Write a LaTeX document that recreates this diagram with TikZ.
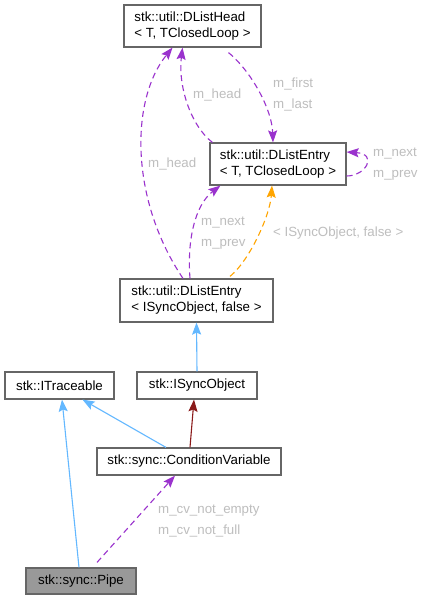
\documentclass[tikz,border=0pt]{standalone}
\usepackage{fontspec}
\setmainfont{Liberation Sans}
\usetikzlibrary{arrows.meta}
\definecolor{edgepurple}{HTML}{9A32CD}
\definecolor{edgeblue}{HTML}{63B8FF}
\definecolor{edgered}{HTML}{8B1A1A}
\definecolor{edgeorange}{HTML}{FFA500}
\definecolor{lblgray}{HTML}{BEBEBE}
\definecolor{boxgray}{HTML}{666666}
\definecolor{pipegray}{HTML}{999999}

\begin{document}
\begin{tikzpicture}[x=1pt,y=-1pt,
    font=\fontsize{13.3}{16}\selectfont,
    cls/.style={draw=boxgray,line width=1.2pt,fill=white,inner sep=0pt,align=left},
    member/.style={edgepurple,line width=1.1pt,dash pattern=on 6pt off 4pt,-{Stealth[length=12pt,width=9pt,inset=2pt]}},
    tmpl/.style={edgeorange,line width=1.1pt,dash pattern=on 6pt off 4pt,-{Stealth[length=12pt,width=9pt,inset=2pt]}},
    inherit/.style={edgeblue,line width=1.1pt,-{Stealth[length=12pt,width=9pt,inset=2pt]}},
    priv/.style={edgered,line width=1.1pt,-{Stealth[length=12pt,width=9pt,inset=2pt]}},
    lbl/.style={lblgray,anchor=west,inner sep=0pt,align=left,font=\fontsize{13.3}{21}\selectfont}]
  \fill[white] (0,0) rectangle (426,600);
  \useasboundingbox (0,0) rectangle (426,600);

  % classes
  \node[cls,minimum width=137pt,minimum height=42pt] (head) at (192.5,26) {stk::util::DListHead\\< T, TClosedLoop >};
  \node[cls,minimum width=136pt,minimum height=42pt] (entryT) at (278,164) {stk::util::DListEntry\\< T, TClosedLoop >};
  \node[cls,minimum width=153pt,minimum height=43pt] (entrySO) at (196.5,300.5) {stk::util::DListEntry\\< ISyncObject, false >};
  \node[cls,minimum width=109pt,minimum height=27pt] (trace) at (59.5,385.5) {stk::ITraceable};
  \node[cls,minimum width=120pt,minimum height=27pt] (syncobj) at (197,385.5) {stk::ISyncObject};
  \node[cls,minimum width=184pt,minimum height=27pt] (condvar) at (189,461.5) {stk::sync::ConditionVariable};
  \node[cls,fill=pipegray,minimum width=110pt,minimum height=26pt] (pipe) at (81,581) {stk::sync::Pipe};

  % members
  \draw[member] ([xshift=3pt]entryT.north west) .. controls (190,125) and (178,85) .. ([xshift=-10pt]head.south);
  \draw[member] ([xshift=36pt,yshift=-5pt]head.south) .. controls (252,72) and (272,110) .. ([xshift=-5pt]entryT.north);
  \draw[member] ([yshift=-12pt]entryT.east) .. controls (366,176) and (378,154) .. ([yshift=12pt]entryT.east);
  \draw[member] ([xshift=-13.5pt]entrySO.north) .. controls (130,200) and (130,100) .. ([xshift=-20pt]head.south);
  \draw[member] ([xshift=-6.5pt]entrySO.north) .. controls (187,240) and (195,205) .. ([xshift=11pt]entryT.south west);
  \draw[tmpl] ([xshift=33.5pt,yshift=2pt]entrySO.north) .. controls (250,260) and (270,215) .. ([xshift=-6pt]entryT.south);
  \draw[member] ([xshift=16pt,yshift=5pt]pipe.north) -- ([xshift=-14pt]condvar.south);

  % bases
  \draw[inherit] (syncobj.north) -- (entrySO.south);
  \draw[inherit] ([xshift=-2pt]pipe.north) -- ([xshift=2.5pt]trace.south);
  \draw[inherit] ([xshift=-23pt]condvar.north) -- ([xshift=23pt]trace.south);
  \draw[priv] ([xshift=1pt]condvar.north) -- ([xshift=-3pt]syncobj.south);

  % labels
  \node[lbl] (lheadT) at (193,95) {m\_head};
  \node[lbl] (lfirst) at (273,95) {m\_first\\m\_last};
  \node[lbl] (lloop) at (373,164.5) {m\_next\\m\_prev};
  \node[lbl] (lheadSO) at (148,164) {m\_head};
  \node[lbl] (lnext) at (201,233) {m\_next\\m\_prev};
  \node[lbl] (ltmpl) at (273,233) {< ISyncObject, false >};
  \node[lbl] (lcv) at (158,521.5) {m\_cv\_not\_empty\\m\_cv\_not\_full};
\end{tikzpicture}
\end{document}
